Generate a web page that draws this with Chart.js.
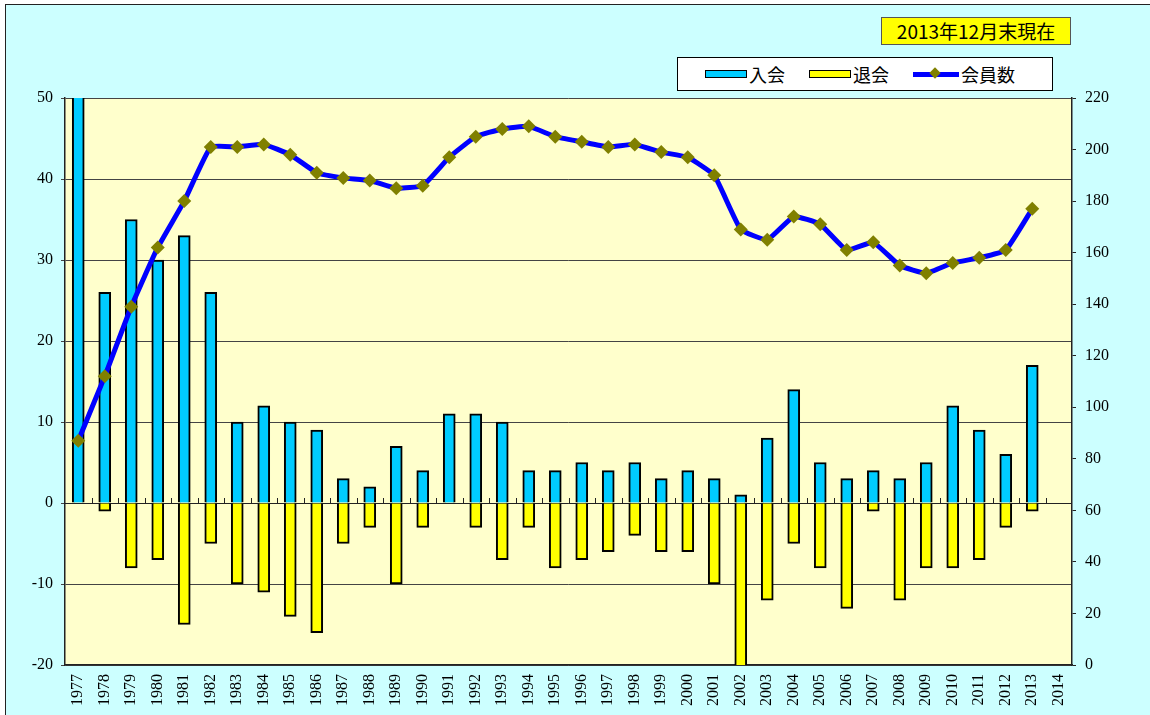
<!DOCTYPE html>
<html>
<head>
<meta charset="utf-8">
<script src="https://cdn.jsdelivr.net/npm/chart.js@4.4.0/dist/chart.umd.min.js"></script>
<style>
    body { margin: 0; background: #fff; }
    #wrap { position: relative; width: 1150px; height: 715px; overflow: hidden; background: #fff; }
    #frame { position: absolute; left: 5px; top: 4px; width: 1170px; height: 730px; border: 1px solid #222; background: #ccffff; }
    #chartCanvas { position: absolute; left: 0; top: 0; }
    #title-box { position: absolute; left: 881px; top: 17px; width: 188px; height: 26px; border: 1.5px solid #555; background: #ffff00;
        font: 19px "Noto Sans CJK JP", sans-serif; line-height: 26px; text-align: center; color: #000; }
    #legend-div { position: absolute; left: 677px; top: 57px; width: 374px; height: 32px; border: 1px solid #000; background: #fff; }
    #legend-div ul { list-style: none; margin: 0; padding: 0 0 0 27px; display: flex; align-items: center; height: 32px;
        font: 18px "Noto Sans CJK JP", sans-serif; color: #000; }
    #legend-div li { display: flex; align-items: center; margin-right: 24px; }
    #legend-div li .box { display: inline-block; width: 40px; height: 6px; border: 1.5px solid #000; margin-right: 2px; }
    #legend-div li .line { position: relative; display: inline-block; width: 46px; height: 5px; margin-right: 2px; }
    #legend-div li .diamond { position: absolute; left: 18px; top: -2.5px; width: 8px; height: 8px; transform: rotate(45deg); }
</style>
</head>
<body>
<div id="wrap">
    <div id="frame"></div>
    <canvas id="chartCanvas" width="1150" height="715"></canvas>
    <div id="title-box">2013年12月末現在</div>
    <div id="legend-div"></div>
</div>
<script>
let years = ['1977', '1978', '1979', '1980', '1981', '1982', '1983', '1984', '1985', '1986',
    '1987', '1988', '1989', '1990', '1991', '1992', '1993', '1994', '1995', '1996',
    '1997', '1998', '1999', '2000', '2001', '2002', '2003', '2004', '2005', '2006',
    '2007', '2008', '2009', '2010', '2011', '2012', '2013', '2014'];

// 入会 (joined)
let joined = [87, 26, 35, 30, 33, 26, 10, 12, 10, 9,
    3, 2, 7, 4, 11, 11, 10, 4, 4, 5,
    4, 5, 3, 4, 3, 1, 8, 14, 5, 3,
    4, 3, 5, 12, 9, 6, 17];

// 退会 (left), drawn downward
let left = [0, -1, -8, -7, -15, -5, -10, -11, -14, -16,
    -5, -3, -10, -3, 0, -3, -7, -3, -8, -7,
    -6, -4, -6, -6, -10, -22, -12, -5, -8, -13,
    -1, -12, -8, -8, -7, -3, -1];

// 会員数 (members)
let members = [87, 112, 139, 162, 180, 201, 201, 202, 198, 191,
    189, 188, 185, 186, 197, 205, 208, 209, 205, 203,
    201, 202, 199, 197, 190, 169, 165, 174, 171, 161,
    164, 155, 152, 156, 158, 161, 177];

let leftTicks = [-20, -10, 0, 10, 20, 30, 40, 50];
let rightTicks = [0, 20, 40, 60, 80, 100, 120, 140, 160, 180, 200, 220];

let colors = { joined: '#00ccff', left: '#ffff00', line: '#0000ff', point: '#808000' };

window.onload = function () {
    barChartDraw();
    document.getElementById('legend-div').innerHTML = customLegend(window.barChart);
};

// plot area fill + the small tick marks on the zero line
let plotDecor = {
    id: 'plotDecor',
    beforeDraw: function (chart) {
        let a = chart.chartArea;
        let ctx = chart.ctx;
        ctx.save();
        ctx.fillStyle = '#ffffcc';
        ctx.fillRect(a.left, a.top, a.right - a.left, a.bottom - a.top);
        ctx.restore();
    },
    beforeDatasetsDraw: function (chart) {
        let x = chart.scales.x;
        let y0 = chart.scales.y.getPixelForValue(0);
        let ctx = chart.ctx;
        ctx.save();
        ctx.strokeStyle = '#222';
        ctx.lineWidth = 1;
        ctx.beginPath();
        ctx.moveTo(chart.chartArea.left, y0 + 0.5);
        ctx.lineTo(chart.chartArea.right, y0 + 0.5);
        for (let i = 0; i < years.length - 1; i++) {
            let bx = Math.round((x.getPixelForTick(i) + x.getPixelForTick(i + 1)) / 2) + 0.5;
            ctx.moveTo(bx, y0);
            ctx.lineTo(bx, y0 - 5);
        }
        ctx.stroke();
        ctx.restore();
    }
};

let barChartDraw = function () {
    let ctx = document.getElementById('chartCanvas').getContext('2d');
    let tickFont = { family: '"Liberation Serif", serif', size: 16 };

    window.barChart = new Chart(ctx, {
        type: 'bar',
        data: {
            labels: years,
            datasets: [{
                label: '入会',
                data: joined,
                backgroundColor: colors.joined,
                borderColor: '#000',
                borderWidth: 2,
                barThickness: 12,
                order: 2
            }, {
                label: '退会',
                data: left,
                backgroundColor: colors.left,
                borderColor: '#000',
                borderWidth: 2,
                barThickness: 12,
                order: 1
            }, {
                type: 'line',
                label: '会員数',
                data: members,
                yAxisID: 'y2',
                borderColor: colors.line,
                borderWidth: 5,
                tension: 0.12,
                pointStyle: 'rectRot',
                pointRadius: 7,
                pointBackgroundColor: colors.point,
                pointBorderColor: colors.point,
                pointBorderWidth: 0,
                order: 0
            }]
        },
        options: {
            responsive: false,
            animation: false,
            layout: { padding: { top: 98, left: 0, right: 0, bottom: 0 } },
            plugins: {
                legend: { display: false },
                tooltip: { enabled: false }
            },
            scales: {
                x: {
                    stacked: true,
                    offset: true,
                    grid: { display: true, drawOnChartArea: false, drawTicks: false },
                    border: { color: '#222', width: 1.5 },
                    ticks: {
                        color: '#000',
                        font: { family: '"Liberation Serif", serif', size: 16 },
                        minRotation: 90,
                        maxRotation: 90,
                        autoSkip: false,
                        padding: 9
                    },
                    afterFit: function (scale) { scale.height = 50; }
                },
                y: {
                    stacked: true,
                    min: -20,
                    max: 50,
                    afterBuildTicks: function (scale) {
                        scale.ticks = leftTicks.map(function (v) { return { value: v }; });
                    },
                    grid: { color: '#444', lineWidth: 1, tickLength: 4 },
                    border: { color: '#222', width: 1.5 },
                    ticks: { color: '#000', font: tickFont, padding: 8 },
                    afterFit: function (scale) { scale.width = 65; }
                },
                y2: {
                    position: 'right',
                    min: 0,
                    max: 220,
                    afterBuildTicks: function (scale) {
                        scale.ticks = rightTicks.map(function (v) { return { value: v }; });
                    },
                    grid: { drawOnChartArea: false, color: '#222', tickLength: 4 },
                    border: { color: '#222', width: 1.5 },
                    ticks: { color: '#000', font: tickFont, padding: 9 },
                    afterFit: function (scale) { scale.width = 78; }
                }
            }
        },
        plugins: [plotDecor]
    });
};

let customLegend = function (chart) {
    let ul = document.createElement('ul');
    let ds = chart.data.datasets;

    ul.innerHTML += "<li><span class='box' style='background-color: " + ds[0].backgroundColor + "'></span>" + ds[0].label + "</li>";
    ul.innerHTML += "<li><span class='box' style='background-color: " + ds[1].backgroundColor + "'></span>" + ds[1].label + "</li>";
    ul.innerHTML += "<li><span class='line' style='background-color: " + ds[2].borderColor + "'><span class='diamond' style='background-color: " + ds[2].pointBackgroundColor + "'></span></span>" + ds[2].label + "</li>";

    return ul.outerHTML;
};
</script>
</body>
</html>
